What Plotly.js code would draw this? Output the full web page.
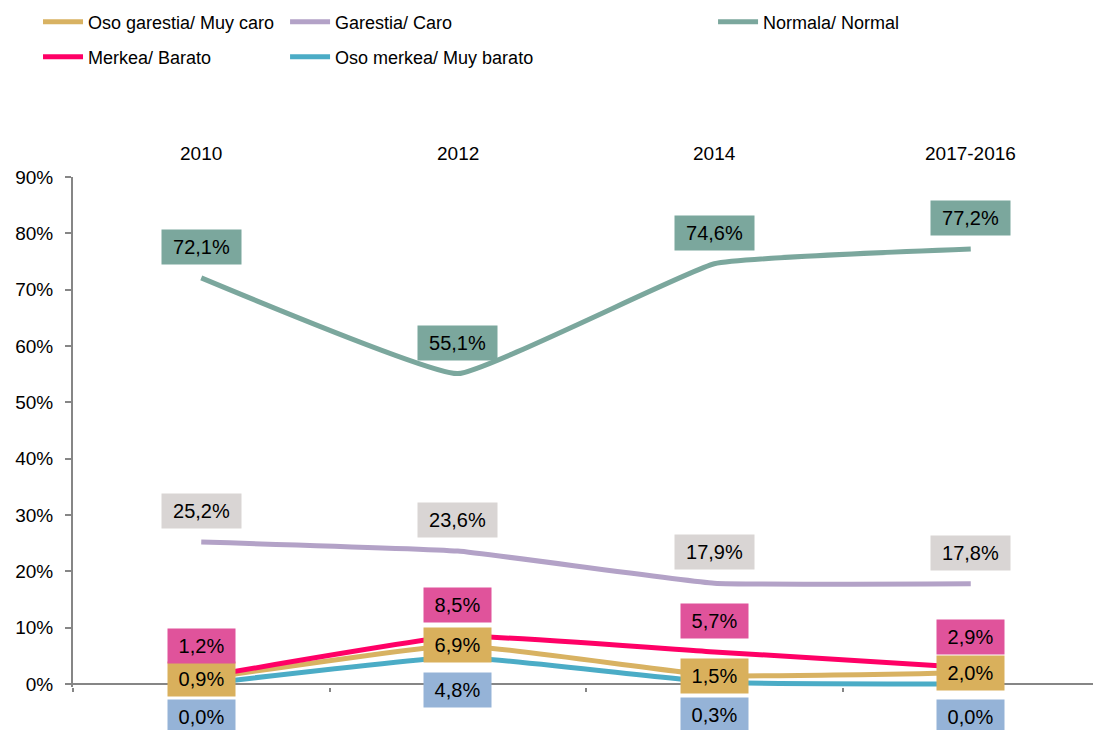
<!DOCTYPE html>
<html>
<head>
<meta charset="utf-8">
<script src="https://cdn.plot.ly/plotly-3.0.1.min.js"></script>
<style>
  html, body { margin: 0; padding: 0; background: #fff; }
  #chart { width: 1093px; height: 730px; }
</style>
</head>
<body>
<div id="chart"></div>
<script>
// ---- data ----
var categories = ['2010', '2012', '2014', '2017-2016'];
var seriesNames = ['Oso garestia/ Muy caro', 'Garestia/ Caro', 'Normala/ Normal', 'Merkea/ Barato', 'Oso merkea/ Muy barato'];
var muyCaro   = [0.9, 6.9, 1.5, 2.0];
var caro      = [25.2, 23.6, 17.9, 17.8];
var normal    = [72.1, 55.1, 74.6, 77.2];
var barato    = [1.2, 8.5, 5.7, 2.9];
var muyBarato = [0.0, 4.8, 0.3, 0.0];
var yTickVals = [0, 10, 20, 30, 40, 50, 60, 70, 80, 90];
var yTickText = ['0%', '10%', '20%', '30%', '40%', '50%', '60%', '70%', '80%', '90%'];

// ---- styling ----
var FONT = 'Liberation Sans, Arial, sans-serif';
var seriesValues = [muyCaro, caro, normal, barato, muyBarato];
var lineColors  = ['#D8B262', '#B3A2C7', '#7BA79D', '#FF0066', '#4BACC6'];
var labelColors = ['#D9B05C', '#D9D5D4', '#7BA79D', '#E0539B', '#95B3D7'];
var labelShift  = [0, 31, 31, 31, -33];
var legendIds   = ['legend', 'legend2', 'legend3', 'legend4', 'legend5'];
var legendPos   = [[-0.0343, 1.304], [0.2079, 1.304], [0.6275, 1.304], [-0.0343, 1.235], [0.2079, 1.235]];

var traces = [];
var annotations = [];
for (var s = 0; s < seriesNames.length; s++) {
  traces.push({
    type: 'scatter', mode: 'lines',
    name: seriesNames[s],
    x: categories, y: seriesValues[s],
    line: { color: lineColors[s], width: 5, shape: 'spline', smoothing: 0.3 },
    legend: legendIds[s],
    hoverinfo: 'skip'
  });
  for (var i = 0; i < categories.length; i++) {
    var txt = seriesValues[s][i].toFixed(1).replace('.', ',') + '%';
    annotations.push({
      xref: 'x', yref: 'y', x: i, y: seriesValues[s][i],
      text: txt, showarrow: false,
      bgcolor: labelColors[s],
      width: 12 * txt.length + 17, height: 32,
      yshift: labelShift[s],
      font: { family: FONT, size: 20, color: '#000' },
      xanchor: 'center', yanchor: 'middle', valign: 'middle'
    });
  }
}
// category labels on top
for (var c = 0; c < categories.length; c++) {
  annotations.push({
    xref: 'x', yref: 'paper', x: c, y: 1, yshift: 24,
    text: categories[c], showarrow: false,
    font: { family: FONT, size: 19, color: '#000' },
    xanchor: 'center', yanchor: 'middle'
  });
}

var layout = {
  width: 1093, height: 730,
  margin: { l: 73, r: 0, t: 177, b: 43, pad: 0 },
  paper_bgcolor: '#fff', plot_bgcolor: '#fff',
  font: { family: FONT, size: 19, color: '#000' },
  showlegend: true,
  xaxis: {
    type: 'category',
    categoryorder: 'array', categoryarray: categories,
    range: [-0.5, 3.4766],
    showgrid: false, zeroline: false,
    showline: false,
    showticklabels: false,
    ticks: 'outside', tickson: 'boundaries', ticklen: 4, tickwidth: 2, tickcolor: '#868686'
  },
  yaxis: {
    range: [-0.533, 90],
    tickmode: 'array', tickvals: yTickVals, ticktext: yTickText,
    showgrid: false,
    zeroline: true, zerolinecolor: '#868686', zerolinewidth: 2,
    showline: true, linecolor: '#868686', linewidth: 2,
    ticks: 'outside', ticklen: 6, tickwidth: 2, tickcolor: '#868686',
    ticklabelstandoff: 8,
    tickfont: { family: FONT, size: 19, color: '#000' }
  },
  annotations: annotations
};
for (var k = 0; k < legendIds.length; k++) {
  layout[legendIds[k]] = {
    x: legendPos[k][0], y: legendPos[k][1], xanchor: 'left', yanchor: 'middle',
    orientation: 'v', bgcolor: 'rgba(0,0,0,0)',
    itemwidth: 40,
    font: { family: FONT, size: 18, color: '#000' },
    itemclick: false, itemdoubleclick: false
  };
}

Plotly.newPlot('chart', traces, layout, { displayModeBar: false, staticPlot: true });
</script>
</body>
</html>
